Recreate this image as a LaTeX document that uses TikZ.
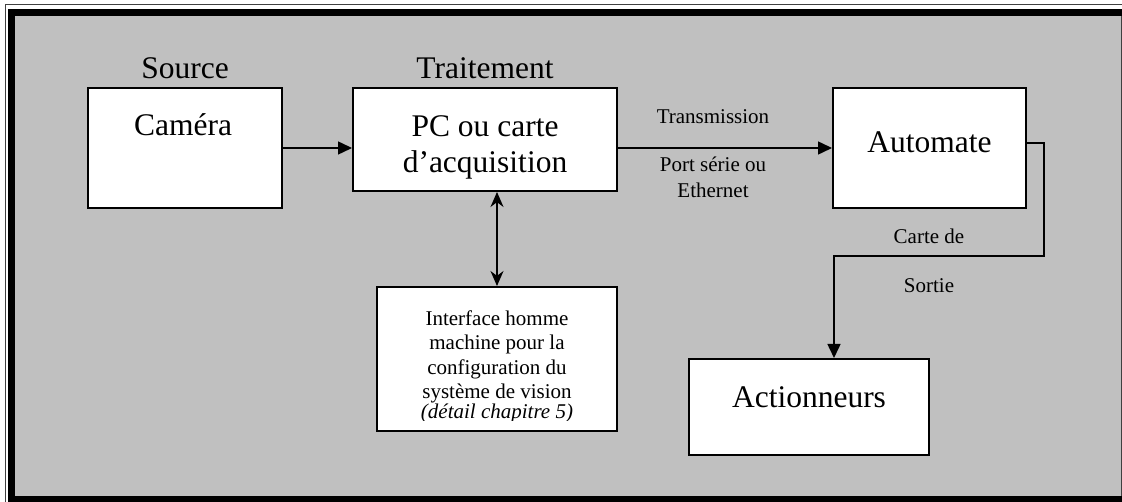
\documentclass[tikz,border=0pt]{standalone}
\usepackage{fontspec}
\setmainfont{Liberation Serif}
\usepackage{tikz}
\usetikzlibrary{calc}
\usetikzlibrary{arrows.meta}
\definecolor{fond}{RGB}{192,192,192}
\tikzset{
  bloc/.style={draw, fill=white, line width=2pt, inner sep=0pt},
  grand/.style={font=\fontsize{31.5}{36}\selectfont, inner sep=0pt, anchor=base},
  petit/.style={font=\fontsize{21}{24.5}\selectfont, inner sep=0pt, anchor=base, align=center},
  fleche/.style={line width=1.5pt, -{Triangle[length=14pt,width=13pt]}},
  dfleche/.style={line width=1.5pt, {Stealth[length=15pt,width=13pt]}-{Stealth[length=15pt,width=13pt]}}
}
\newcommand{\bande}[4]{ \fill[black] ( #1 , #2 ) rectangle ( #3 , #4 );}
\begin{document}
\begin{tikzpicture}[x=1pt,y=-1pt]
        \useasboundingbox (0,0) rectangle (1122,502);
        % cadre
        \fill[fond] (15,16) rectangle (1122,496);
        \bande{8}{9}{1122}{16}
        \bande{8}{9}{15}{502}
        \bande{8}{496}{1122}{502}
        \draw[line width=1pt, black!75] (5,502) -- (5,5) -- (1122,5);
        \draw[line width=1pt, black!75] (1121,16) -- (1121,496);

        % blocs
        \node[bloc, minimum width=194pt, minimum height=120pt] (cam) at (185,148) {};
        \node[bloc, minimum width=264pt, minimum height=103pt] (pc) at (485,139.5) {};
        \node[bloc, minimum width=193pt, minimum height=120pt] (auto) at (929.5,148) {};
        \node[bloc, minimum width=240pt, minimum height=96pt] (act) at (809,407) {};
        \node[bloc, minimum width=240pt, minimum height=144pt] (ihm) at (497,359) {};

        % textes (base = ligne de base de la derniere ligne)
        \node[grand] (src) at (185,79) {Source};
        \node[grand] (trt) at (485,79) {Traitement};
        \node[grand] (tcam) at (183,136) {Caméra};
        \node[grand, align=center] (tpc) at (485,173) {PC ou carte\\d’acquisition};
        \node[grand] (tauto) at (929.5,153) {Automate};
        \node[grand] (tact) at (809,408) {Actionneurs};
        \node[petit] (trans) at (713,124) {Transmission};
        \node[petit, font=\fontsize{21}{26}\selectfont] (port) at (713,198) {Port série ou\\Ethernet};
        \node[petit] (carte) at (929,244) {Carte de};
        \node[petit] (sortie) at (929,293) {Sortie};
        \node[petit] (tihm) at (497,399) {Interface homme\\machine pour la\\configuration du\\système de vision};
        \begin{scope}
          \clip (380,290) rectangle (614,421);
          \node[petit, font=\fontsize{21}{24.5}\selectfont\itshape] (detail) at (497,419) {(détail chapitre 5)};
        \end{scope}

        % liaisons
        \coordinate (coude) at (1044,256);
        \draw[fleche] (cam.east) -- (cam.east -| pc.west);
        \draw[fleche] (pc.east |- auto.west) -- (auto.west);
        \draw[dfleche] (ihm.north |- pc.south) -- (ihm.north);
        \draw[fleche] ([yshift=5pt]auto.east) -| (coude) -| ([xshift=25pt]act.north);
\end{tikzpicture}
\end{document}
